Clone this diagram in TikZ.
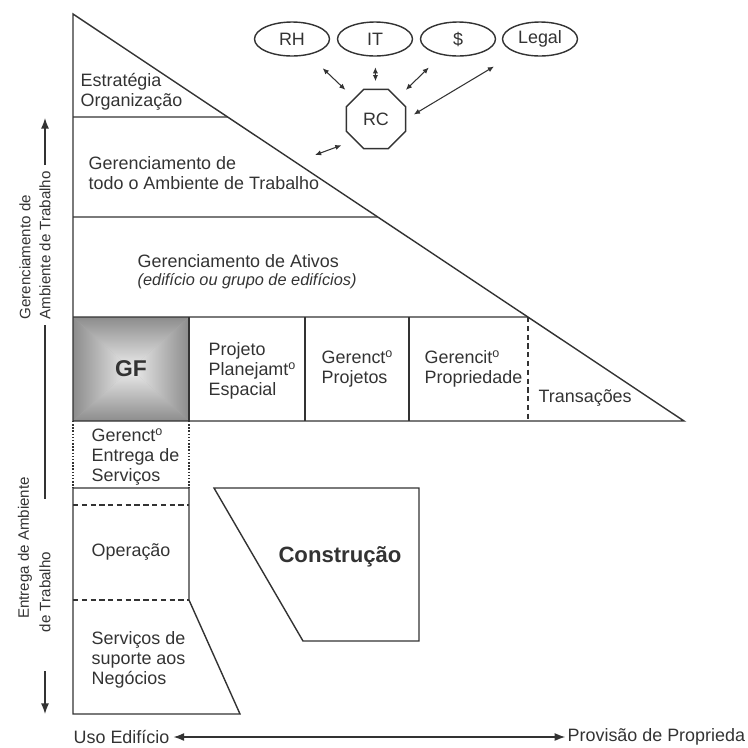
\documentclass[tikz,border=0pt]{standalone}
\usepackage{fontspec}
\setmainfont{Liberation Sans}
\usetikzlibrary{shapes.geometric, arrows.meta, positioning, calc}

\definecolor{ink}{gray}{0.2}
\definecolor{gfdark}{gray}{0.55}
\definecolor{gflight}{gray}{0.93}

\tikzset{
  txt/.style={anchor=west, align=left, inner sep=0pt},
  dept/.style={ellipse, draw, minimum width=1.5cm, minimum height=0.68cm, inner sep=0pt},
  dbl/.style={{Latex[length=3.5pt,width=3pt]}-{Latex[length=3.5pt,width=3pt]}, line width=0.6pt},
  sidelbl/.style={rotate=90, align=left, inner sep=0pt, font=\fontsize{8.6}{11.3}\selectfont},
  axarrow/.style={-{Latex[length=6pt,width=4.5pt]}, line width=0.7pt}
}

\begin{document}
\begin{tikzpicture}[x=0.02cm, y=-0.02cm, color=ink, line width=0.8pt,
  every node/.append style={font=\fontsize{10.2}{11.4}\selectfont}]
\useasboundingbox (0,0) rectangle (748,748);

% shaded GF cell
\coordinate (gfc) at (131,369);
\fill[gray!60] (73,317) rectangle (189,421);
\shade[top color=gfdark, bottom color=gflight] (73,317) -- (189,317) -- (gfc) -- cycle;
\shade[left color=gfdark, right color=gflight] (73,317) -- (73,421) -- (gfc) -- cycle;
\shade[left color=gflight, right color=gfdark] (189,317) -- (189,421) -- (gfc) -- cycle;
\shade[top color=gflight, bottom color=gfdark] (73,421) -- (189,421) -- (gfc) -- cycle;

% big triangle
\coordinate (apex) at (73,14);
\coordinate (tip) at (684,421);
\draw (apex) -- (tip) -- (73,421) -- cycle;
\foreach \y in {117,217,317}
  \draw (73,\y) -- ($(apex)!{(\y-14)/407}!(tip)$);
\foreach \x in {189,305,409}
  \draw (\x,317) -- (\x,421);
\draw[densely dashed] (528,317) -- (528,421);

% service delivery column
\draw[densely dotted] (73,421) -- (73,488) (189,421) -- (189,488);
\draw (73,488) -- (189,488) -- (189,600) -- (240,714) -- (73,714) -- cycle;
\draw[densely dashed] (73,505) -- (189,505) (73,600) -- (189,600);

% construction
\draw (214,488) -- (419,488) -- (419,641) -- (303,641) -- cycle;

% cell texts
\node[txt] (estr) at (80,92) {Estratégia\\Organização};
\node[txt] (todo) at (88,173) {Gerenciamento de\\todo o Ambiente de Trabalho};
\node[txt] (ativ) at (137,272) {Gerenciamento de Ativos\\[-1pt]{\fontsize{9.3}{10}\itshape (edifício ou grupo de edifícios)}};
\node[font=\fontsize{13}{15}\bfseries\selectfont] (gf) at (gfc) {GF};
\node[txt] (proj) at (208,371) {Projeto\\Planejamt\textsuperscript{o}\\Espacial};
\node[txt] (gproj) at (321,369) {Gerenct\textsuperscript{o}\\Projetos};
\node[txt] (gprop) at (424,369) {Gerencit\textsuperscript{o}\\Propriedade};
\node[txt] (trans) at (538,398) {Transações};
\node[txt] (entr) at (91,457) {Gerenct\textsuperscript{o}\\Entrega de\\Serviços};
\node[txt] (oper) at (91,552) {Operação};
\node[txt] (supo) at (91,660) {Serviços de\\suporte aos\\Negócios};
\node[font=\fontsize{12.6}{15}\bfseries\selectfont] (cons) at (340,557) {Construção};

% support functions
\begin{scope}[every node/.append style={dept}]
  \node (rh) at (292,39) {RH};
  \node (it) at (375,39) {IT};
  \node (cash) at (458,39) {\$};
  \node (legal) at (540,39) {Legal};
\end{scope}
\node[regular polygon, regular polygon sides=8, draw, minimum size=1.28cm, inner sep=0pt] (rc) at (376,119) {RC};
\coordinate (wsEnd) at (315,155);

\draw[dbl, shorten <=11pt, shorten >=6.8pt] (rh) -- (rc);
\draw[dbl, shorten <=6pt, shorten >=4.3pt] (it) -- (rc);
\draw[dbl, shorten <=10.2pt, shorten >=6.5pt] (cash) -- (rc);
\draw[dbl, shorten <=15pt, shorten >=5pt] (legal) -- (rc.east);
\draw[dbl, shorten <=8pt] (rc.south west) -- (wsEnd);

% vertical axis
\coordinate (axTop) at (45,118);
\coordinate (axBot) at (45,714);
\node[sidelbl, anchor=west] (gerLbl) at (35,320) {Gerenciamento de\\Ambiente de Trabalho};
\node[sidelbl] (entA) at (25,548) {Entrega de Ambiente};
\node[sidelbl] (entB) at (45,592) {de Trabalho};
\draw[axarrow, shorten <=3pt] (axTop |- gerLbl.east) -- (axTop);
\draw[line width=0.7pt, shorten <=3pt, shorten >=30pt] (axTop |- gerLbl.west) -- (axTop |- entB.east);
\draw[axarrow, shorten <=22pt] (axTop |- entB.west) -- (axBot);

% horizontal axis
\node[txt] (uso) at (73,737) {Uso Edifício};
\node[txt] (prov) at (567,737) {Provisão de Proprieda};
\draw[{Latex[length=6pt,width=4.5pt]}-{Latex[length=6pt,width=4.5pt]}, line width=0.7pt, shorten <=2pt, shorten >=1pt] (uso) -- (prov);
\end{tikzpicture}
\end{document}
